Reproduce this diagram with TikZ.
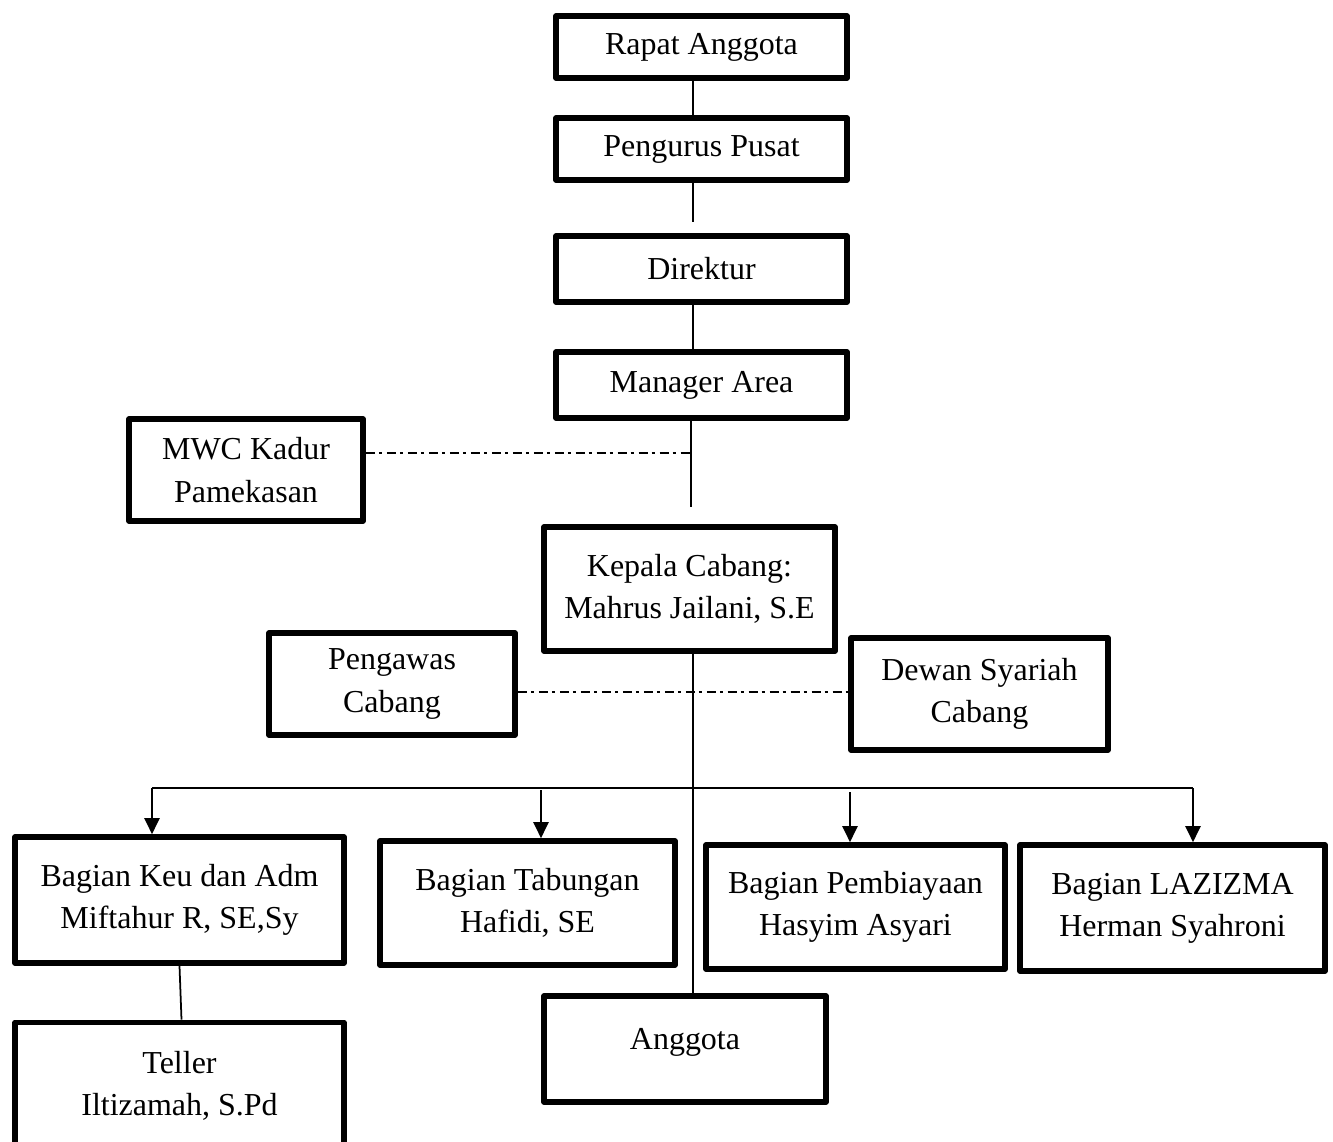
\documentclass[tikz,border=0pt]{standalone}
\usepackage{fontspec}
\setmainfont{Liberation Serif}
\usetikzlibrary{arrows.meta,calc}

\tikzset{
  box/.style={draw, line width=3.2pt, inner sep=0pt, align=center, line join=round},
  link/.style={line width=1.6pt},
  thinlink/.style={line width=1pt},
  bus/.style={line width=1.2pt},
  dotline/.style={line width=1pt, dash pattern=on 0.18cm off 0.08cm on 0.06cm off 0.1cm},
  down/.style={line width=1.2pt, -{Triangle[width=0.3cm,length=0.32cm]}}
}

\begin{document}
\begin{tikzpicture}[x=0.02cm, y=-0.02cm, font=\fontsize{18.2}{24}\selectfont]
\useasboundingbox (0,0) rectangle (1333,1142);
\clip (0,0) rectangle (1333,1142);

% Top chain
\node[box, minimum width=5.82cm, minimum height=1.24cm] (rapat) at (701.5,47) {Rapat Anggota};
\node[box, minimum width=5.82cm, minimum height=1.24cm] (pengurus) at (701.5,149) {Pengurus Pusat};
\node[box, minimum width=5.82cm, minimum height=1.32cm] (direktur) at (701.5,269) {Direktur};
\node[box, minimum width=5.82cm, minimum height=1.32cm] (manager) at (701.5,385) {Manager Area};

% Branch level
\node[box, minimum width=4.68cm, minimum height=2.04cm] (mwc) at (246,470) {MWC Kadur\\Pamekasan};
\node[box, minimum width=5.82cm, minimum height=2.48cm] (kepala) at (689.5,589) {Kepala Cabang:\\Mahrus Jailani, S.E};
\node[box, minimum width=4.92cm, minimum height=2.04cm] (pengawas) at (392,684) {Pengawas\\Cabang};
\node[box, minimum width=5.14cm, minimum height=2.24cm] (dewan) at (979.5,694) {Dewan Syariah\\Cabang};

% Sections
\node[box, minimum width=6.58cm, minimum height=2.52cm] (keu) at (179.5,900) {Bagian Keu dan Adm\\Miftahur R, SE,Sy};
\node[box, minimum width=5.90cm, minimum height=2.48cm] (tabungan) at (527.5,903) {Bagian Tabungan\\Hafidi, SE};
\node[box, minimum width=5.98cm, minimum height=2.48cm] (pembiayaan) at (855.5,907) {Bagian Pembiayaan\\Hasyim Asyari};
\node[box, minimum width=6.10cm, minimum height=2.52cm] (lazizma) at (1172.5,908) {Bagian LAZIZMA\\Herman Syahroni};

% Bottom
\node[box, minimum width=6.58cm, minimum height=2.54cm] (teller) at (179.5,1086) {Teller\\Iltizamah, S.Pd};
\node[box, minimum width=5.64cm, minimum height=2.12cm] (anggota) at (685,1049) {\raisebox{0.42cm}{Anggota}};

% Coordinates
\coordinate (spine) at (693,0);
\coordinate (spinemw) at (691,0);
\coordinate (mwcjoin) at (691,453);
\coordinate (cabjoin) at (693,692);
\coordinate (busL) at (152,788);
\coordinate (busR) at (1193,788);
\coordinate (tabtop) at (541,790);
\coordinate (pemtop) at (850,792);

% Connections
\draw[link] (rapat.south -| spine) -- (pengurus.north -| spine);
\draw[link, shorten >=0.22cm] (pengurus.south -| spine) -- (direktur.north -| spine);
\draw[link] (direktur.south -| spine) -- (manager.north -| spine);
\draw[link, shorten >=0.34cm] (manager.south -| spinemw) -- (kepala.north -| spinemw);
\draw[link] (kepala.south -| spine) -- (anggota.north -| spine);
\draw[thinlink] (keu.south) -- ($(teller.north)+(2,0)$);

% Coordination lines
\draw[dotline] (mwcjoin -| mwc.east) -- (mwcjoin);
\draw[dotline] (cabjoin -| pengawas.east) -- (cabjoin -| dewan.west);

% Arrows to sections
\draw[bus] (busL) -- (busR);
\draw[down] (busL) -- (busL |- keu.north);
\draw[down] (tabtop) -- (tabtop |- tabungan.north);
\draw[down] (pemtop) -- (pemtop |- pembiayaan.north);
\draw[down] (busR) -- (busR |- lazizma.north);

\end{tikzpicture}
\end{document}
